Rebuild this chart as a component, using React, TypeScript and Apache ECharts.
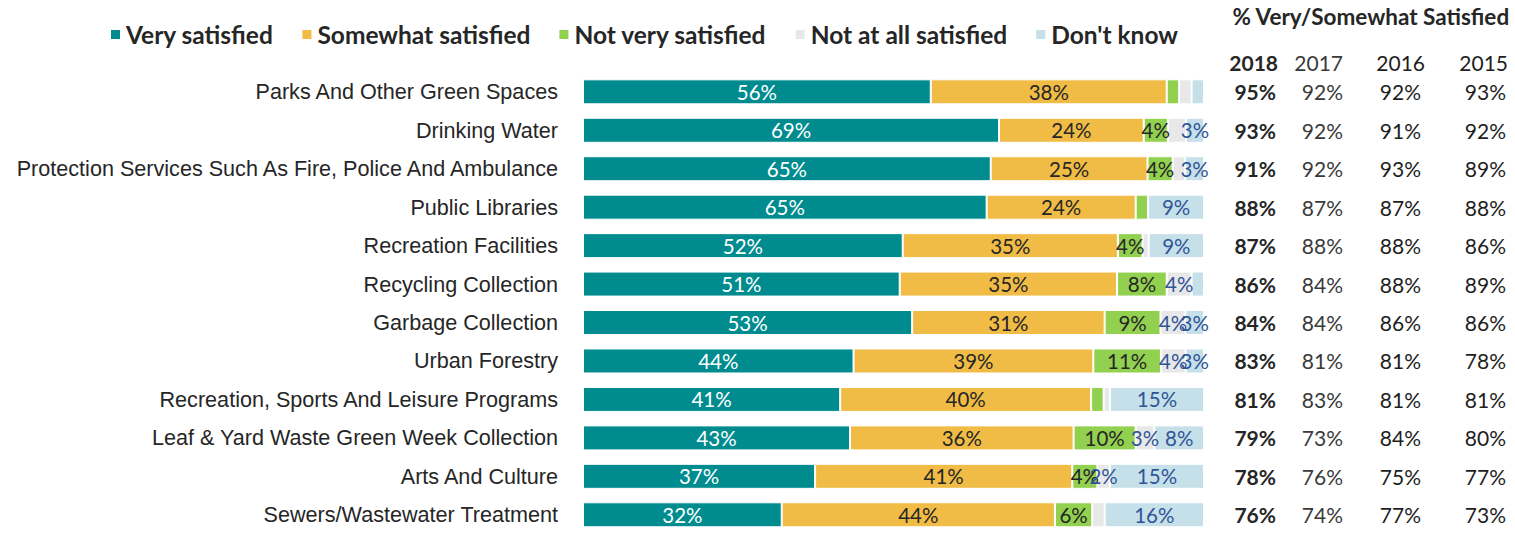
import React, { useEffect, useRef } from "react";
import * as echarts from "echarts";

const categories = [
  "Parks And Other Green Spaces",
  "Drinking Water",
  "Protection Services Such As Fire, Police And Ambulance",
  "Public Libraries",
  "Recreation Facilities",
  "Recycling Collection",
  "Garbage Collection",
  "Urban Forestry",
  "Recreation, Sports And Leisure Programs",
  "Leaf & Yard Waste Green Week Collection",
  "Arts And Culture",
  "Sewers/Wastewater Treatment",
];

const seriesNames = [
  "Very satisfied",
  "Somewhat satisfied",
  "Not very satisfied",
  "Not at all satisfied",
  "Don't know",
];

const verySatisfied = [56, 69, 65, 65, 52, 51, 53, 44, 41, 43, 37, 32];
const somewhatSatisfied = [38, 24, 25, 24, 35, 35, 31, 39, 40, 36, 41, 44];
const notVerySatisfied = [2, 4, 4, 2, 4, 8, 9, 11, 2, 10, 4, 6];
const notAtAllSatisfied = [2, 3, 2, 0, 1, 4, 4, 4, 1, 3, 2, 2];
const dontKnow = [2, 3, 3, 9, 9, 2, 3, 3, 15, 8, 15, 16];

// label exceptions: [series index, category index]
const hiddenLabels = [[3, 1]];
const shownLabels = [[3, 10]];

const tableTitle = "% Very/Somewhat Satisfied";
const tableYears = ["2018", "2017", "2016", "2015"];
const y2018 = [95, 93, 91, 88, 87, 86, 84, 83, 81, 79, 78, 76];
const y2017 = [92, 92, 92, 87, 88, 84, 84, 81, 83, 73, 76, 74];
const y2016 = [92, 91, 93, 87, 88, 88, 86, 81, 81, 84, 75, 77];
const y2015 = [93, 92, 89, 88, 86, 89, 86, 78, 81, 80, 77, 73];

const colors = ["#008C8F", "#F1BC45", "#92D050", "#E8E8E8", "#C6E0EA"];
const labelColors = ["#FFFFFF", "#262626", "#262626", "#2F5597", "#2F5597"];

export default function App() {
  const ref = useRef<HTMLDivElement>(null);
  useEffect(() => {
    if (!ref.current) return;
    const chart = echarts.init(ref.current, null, { renderer: "svg" });
    const all = [verySatisfied, somewhatSatisfied, notVerySatisfied, notAtAllSatisfied, dontKnow];
    const totals = categories.map((_, i) => all.reduce((s, arr) => s + arr[i], 0));

    const GRID_LEFT = 583;
    const GRID_W = 621;
    const GRID_TOP = 72.6;
    const ROW = 38.8;
    const axisX = GRID_LEFT + GRID_W;

    const isShown = (si: number, ci: number) => {
      const v = all[si][ci];
      if (hiddenLabels.some(([a, b]) => a === si && b === ci)) return false;
      if (shownLabels.some(([a, b]) => a === si && b === ci)) return true;
      return v >= 3;
    };

    const series = all.map((arr, si) => ({
      name: seriesNames[si],
      type: "bar",
      stack: "total",
      barWidth: 25,
      itemStyle: { color: colors[si], borderColor: "#FFFFFF", borderWidth: 1 },
      label: {
        show: true,
        position: "inside",
        color: labelColors[si],
        fontFamily: "Lato",
        fontSize: 20.5,
        formatter: (p: any) => (isShown(si, p.dataIndex) ? arr[p.dataIndex] + "%" : ""),
      },
      data: arr.map((v, i) => (v / totals[i]) * 100),
    }));

    const tableCols = [y2018, y2017, y2016, y2015];
    const colRight = [1276, 1343, 1421, 1506];
    const headRight = [1278, 1343, 1425, 1508];
    const colColors = ["#262626", "#3A3A3A", "#1E1E1E", "#1E1E1E"];

    const extraY = tableCols.map((vals, k) => ({
      type: "category",
      data: categories,
      inverse: true,
      position: "right",
      offset: 0,
      gridIndex: 0,
      axisLine: { show: false },
      axisTick: { show: false },
      splitLine: { show: false },
      axisLabel: {
        interval: 0,
        align: "right",
        margin: colRight[k] - axisX,
        fontFamily: "Lato",
        fontSize: 21,
        fontWeight: k === 0 ? "bold" : "normal",
        color: colColors[k],
        formatter: (_v: string, idx: number) => vals[idx] + "%",
      },
    }));

    chart.setOption({
      animation: false,
      legend: {
        data: seriesNames,
        left: 104,
        top: 17,
        icon: "rect",
        itemWidth: 11,
        itemHeight: 11,
        itemGap: 27,
        textStyle: {
          fontFamily: "Lato",
          fontWeight: "bold",
          fontSize: 24.5,
          color: "#262626",
        },
      },
      grid: { left: GRID_LEFT, width: GRID_W, top: GRID_TOP, height: ROW * categories.length },
      xAxis: { type: "value", min: 0, max: 100, show: false },
      yAxis: [
        {
          type: "category",
          data: categories,
          inverse: true,
          axisLine: { show: false },
          axisTick: { show: false },
          axisLabel: {
            interval: 0,
            margin: 25,
            fontFamily: "Liberation Sans",
            fontSize: 21.6,
            color: "#262626",
          },
        },
        ...extraY,
      ],
      graphic: [
        {
          type: "text",
          right: 1515 - 1510,
          top: 5,
          style: {
            text: tableTitle,
            font: "bold 22.5px Lato",
            fill: "#262626",
          },
        },
        ...tableYears.map((y, k) => ({
          type: "text",
          x: headRight[k],
          y: 62,
          style: {
            text: y,
            align: "right",
            verticalAlign: "middle",
            font: (k === 0 ? "bold " : "") + "21px Lato",
            fill: colColors[k],
          },
        })),
      ],
      series,
    });
    return () => chart.dispose();
  }, []);
  return (
    <div
      ref={ref}
      style={{ position: "fixed", left: 0, top: 0, width: 1515, height: 534, background: "#fff" }}
    />
  );
}
